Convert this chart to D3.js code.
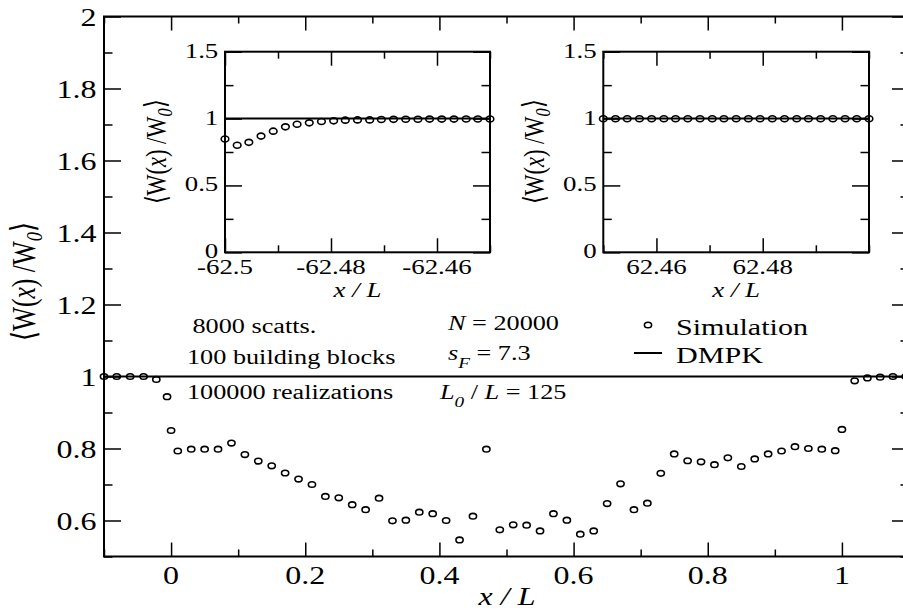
<!DOCTYPE html>
<html>
<head>
<meta charset="utf-8">
<script src="https://cdn.jsdelivr.net/npm/d3@7/dist/d3.min.js"></script>
<style>
  body { margin: 0; background: #fff; }
  text { font-family: 'Liberation Serif', 'Times New Roman', serif; fill: #000; }
</style>
</head>
<body>
<div id="chart"></div>
<script>
// main panel: simulation points and DMPK line
var simX = [-0.1, -0.081, -0.061, -0.041, -0.022, -0.006, 0,
  0.01, 0.03, 0.05, 0.07, 0.09, 0.11, 0.13, 0.15, 0.17, 0.19,
  0.21, 0.23, 0.25, 0.27, 0.29, 0.31, 0.33, 0.35, 0.37, 0.39,
  0.41, 0.43, 0.45, 0.47, 0.49, 0.51, 0.53, 0.55, 0.57, 0.59,
  0.61, 0.63, 0.65, 0.67, 0.69, 0.71, 0.73, 0.75, 0.77, 0.79,
  0.81, 0.83, 0.85, 0.87, 0.89, 0.91, 0.93, 0.95, 0.97, 0.99,
  1.0, 1.019, 1.038, 1.057, 1.076, 1.095]
var simY = [1.0, 1.0, 1.0, 1.0, 0.992, 0.944, 0.85,
  0.793, 0.798, 0.798, 0.798, 0.815, 0.783, 0.765, 0.752, 0.732, 0.715,
  0.700, 0.667, 0.663, 0.644, 0.630, 0.662, 0.599, 0.601, 0.623, 0.619,
  0.600, 0.546, 0.612, 0.798, 0.574, 0.588, 0.587, 0.571, 0.619, 0.601,
  0.562, 0.571, 0.647, 0.702, 0.630, 0.648, 0.731, 0.785, 0.766, 0.763,
  0.755, 0.774, 0.750, 0.771, 0.785, 0.793, 0.805, 0.800, 0.798, 0.794,
  0.853, 0.988, 0.996, 0.998, 1.0, 1.0]
var dmpkX = [-0.1, 1.1]
var dmpkY = [1, 1]

// left inset
var leftX = [-62.5, -62.4977, -62.4955, -62.4932, -62.4909, -62.4886, -62.4864,
  -62.4841, -62.4818, -62.4795, -62.4773, -62.475, -62.4727, -62.4705, -62.4682,
  -62.4659, -62.4636, -62.4614, -62.4591, -62.4568, -62.4545, -62.4523, -62.45]
var leftY = [0.847, 0.800, 0.822, 0.869, 0.906, 0.938, 0.958, 0.968, 0.978, 0.983,
  0.988, 0.990, 0.990, 0.993, 0.994, 0.995, 0.995, 0.996, 0.996, 0.996, 0.997, 0.997, 0.997]
var leftLineX = [-62.5, -62.45]

// right inset
var rightX = [62.45, 62.4523, 62.4545, 62.4568, 62.4591, 62.4614, 62.4636,
  62.4659, 62.4682, 62.4705, 62.4727, 62.475, 62.4773, 62.4795, 62.4818,
  62.4841, 62.4864, 62.4886, 62.4909, 62.4932, 62.4955, 62.4977, 62.5]
var rightY = [0.999, 0.999, 0.999, 0.999, 0.999, 0.999, 0.999, 0.999, 0.999, 0.999,
  0.999, 0.999, 0.999, 0.999, 0.999, 0.999, 0.999, 0.999, 0.999, 0.999, 0.999, 0.999, 0.999]
var rightLineX = [62.45, 62.5]

// ticks
var mainXMajor = [0, 0.2, 0.4, 0.6, 0.8, 1]
var mainXMinor = [-0.1, 0.1, 0.3, 0.5, 0.7, 0.9, 1.1]
var mainYMajor = [0.6, 0.8, 1, 1.2, 1.4, 1.6, 1.8, 2]
var mainYMinor = [0.5, 0.7, 0.9, 1.1, 1.3, 1.5, 1.7, 1.9]
var leftXMajor = [-62.5, -62.48, -62.46]
var leftXMinor = [-62.49, -62.47, -62.45]
var rightXMajor = [62.46, 62.48]
var rightXMinor = [62.45, 62.47, 62.49, 62.5]
var insetYMajor = [0, 0.5, 1, 1.5]
var insetYMinor = [0.25, 0.75, 1.25]

var width = 903
var height = 612
var SX = 1.28 // the picture is stretched sideways, so is the text

// plain hyphen for negatives, like the original
var fmt = function (d) { return String(d) }

var svg = d3.select('#chart')
  .append('svg')
  .attr('width', width)
  .attr('height', height)
  .attr('font-family', 'Liberation Serif, serif')

function stext(g, x, y, size, anchor) {
  return g.append('text')
    .attr('transform', 'translate(' + x + ',' + y + ') scale(' + SX + ',1)')
    .attr('font-size', size)
    .attr('text-anchor', anchor || 'start')
}

// W(x)/W0 label, rotated
function wLabel(g, x, y, size) {
  var t = g.append('text')
    .attr('transform', 'translate(' + x + ',' + y + ') scale(' + SX + ',1) rotate(-90)')
    .attr('font-size', size)
    .attr('text-anchor', 'middle')
    .attr('dy', '0.33em')
  t.append('tspan').text('\u27E8W(')
  t.append('tspan').attr('font-style', 'italic').text('x')
  t.append('tspan').text(') /W')
  t.append('tspan').attr('font-style', 'italic').attr('font-size', size * 0.72).attr('dy', '0.3em').text('0')
  t.append('tspan').attr('dy', '-0.25em').text('\u27E9')
}

function drawFrame(g, x, y, o) {
  var x0 = x.range()[0], x1 = x.range()[1]
  var y0 = y.range()[1], y1 = y.range()[0]

  g.append('rect')
    .attr('x', x0).attr('y', y0)
    .attr('width', x1 - x0).attr('height', y1 - y0)
    .attr('fill', o.fill || 'none')

  var axes = [
    [d3.axisBottom(x).tickValues(o.xMajor).tickSize(-o.tv), 'translate(0,' + y1 + ')'],
    [d3.axisBottom(x).tickValues(o.xMinor).tickSize(-o.tv / 2), 'translate(0,' + y1 + ')'],
    [d3.axisTop(x).tickValues(o.xMajor).tickSize(-o.tv), 'translate(0,' + y0 + ')'],
    [d3.axisTop(x).tickValues(o.xMinor).tickSize(-o.tv / 2), 'translate(0,' + y0 + ')'],
    [d3.axisLeft(y).tickValues(o.yMajor).tickSize(-o.th), 'translate(' + x0 + ',0)'],
    [d3.axisLeft(y).tickValues(o.yMinor).tickSize(-o.th / 2), 'translate(' + x0 + ',0)'],
    [d3.axisRight(y).tickValues(o.yMajor).tickSize(-o.th), 'translate(' + x1 + ',0)'],
    [d3.axisRight(y).tickValues(o.yMinor).tickSize(-o.th / 2), 'translate(' + x1 + ',0)']
  ]
  axes.forEach(function (a) {
    var ax = g.append('g')
      .attr('transform', a[1])
      .call(a[0].tickFormat('').tickSizeOuter(0))
    ax.select('.domain').remove()
    ax.selectAll('line').attr('stroke', '#000').attr('stroke-width', 1.5)
  })

  g.append('rect')
    .attr('x', x0).attr('y', y0)
    .attr('width', x1 - x0).attr('height', y1 - y0)
    .attr('fill', 'none')
    .attr('stroke', '#000')
    .attr('stroke-width', 2)

  // tick labels
  o.xLabels.forEach(function (d) {
    stext(g, x(d), y1 + o.xlDy, o.fs, 'middle').text(fmt(d))
  })
  o.yMajor.forEach(function (d) {
    stext(g, x0 - o.ylDx, y(d) + o.ylDy, o.fs, 'end').text(fmt(d))
  })
}

function drawPoints(g, x, y, xs, ys, rx, ry) {
  g.append('g')
    .selectAll('ellipse')
    .data(xs)
    .enter()
    .append('ellipse')
    .attr('cx', function (d) { return x(d) })
    .attr('cy', function (d, i) { return y(ys[i]) })
    .attr('rx', rx)
    .attr('ry', ry)
    .attr('fill', 'none')
    .attr('stroke', '#000')
    .attr('stroke-width', 1.6)
}

function drawLine(g, x, y, xs, ys) {
  var line = d3.line()
    .x(function (d) { return x(d) })
    .y(function (d, i) { return y(ys[i]) })
  g.append('path')
    .datum(xs)
    .attr('d', line)
    .attr('fill', 'none')
    .attr('stroke', '#000')
    .attr('stroke-width', 2)
}

// ---------- main panel ----------
var xMain = d3.scaleLinear().domain([-0.1, 1.1]).range([104, 909])
var yMain = d3.scaleLinear().domain([0.5, 2]).range([556.5, 16.5])

var main = svg.append('g')
drawLine(main, xMain, yMain, dmpkX, dmpkY)
drawPoints(main, xMain, yMain, simX, simY, 3.6, 2.8)
drawFrame(main, xMain, yMain, {
  xMajor: mainXMajor, xMinor: mainXMinor,
  yMajor: mainYMajor, yMinor: mainYMinor,
  xLabels: mainXMajor,
  tv: 14, th: 17, fs: 25, xlDy: 27, ylDx: 7.5, ylDy: 9
})

stext(main, 507, 605, 25, 'middle').attr('font-style', 'italic').text('x / L')
wLabel(main, 24, 281.5, 25.5)

// annotations
stext(main, 192.5, 332.5, 20.5).text('8000 scatts.')
stext(main, 187, 363.5, 20.5).text('100 building blocks')
stext(main, 187, 398.5, 20.5).text('100000 realizations')

var t1 = stext(main, 448, 330, 20.5)
t1.append('tspan').attr('font-style', 'italic').text('N')
t1.append('tspan').text(' = 20000')

var t2 = stext(main, 448, 360, 20.5)
t2.append('tspan').attr('font-style', 'italic').text('s')
t2.append('tspan').attr('font-style', 'italic').attr('font-size', 15).attr('dy', 8).text('F')
t2.append('tspan').attr('dy', -8).text(' = 7.3')

var t3 = stext(main, 440, 399, 20.5)
t3.append('tspan').attr('font-style', 'italic').text('L')
t3.append('tspan').attr('font-style', 'italic').attr('font-size', 15).attr('dy', 8).text('0')
t3.append('tspan').attr('dy', -8).text(' / ')
t3.append('tspan').attr('font-style', 'italic').text('L')
t3.append('tspan').text(' = 125')

// legend
var legX = [634, 662]
main.append('ellipse')
  .attr('cx', d3.mean(legX)).attr('cy', 325)
  .attr('rx', 3.6).attr('ry', 2.8)
  .attr('fill', 'none').attr('stroke', '#000').attr('stroke-width', 1.6)
main.append('line')
  .attr('x1', legX[0]).attr('x2', legX[1])
  .attr('y1', 353).attr('y2', 353)
  .attr('stroke', '#000').attr('stroke-width', 2)
stext(main, 676, 335, 23.5).text('Simulation')
stext(main, 676, 362.5, 23.5).text('DMPK')

// ---------- insets ----------
function inset(x, y, xs, ys, lineX, xMajor, xMinor, labelX) {
  var g = svg.append('g')
  drawFrame(g, x, y, {
    fill: '#fff',
    xMajor: xMajor, xMinor: xMinor,
    yMajor: insetYMajor, yMinor: insetYMinor,
    xLabels: xMajor,
    tv: 14, th: 17, fs: 21, xlDy: 22, ylDx: 6.7, ylDy: 6
  })
  drawLine(g, x, y, lineX, [1, 1])
  drawPoints(g, x, y, xs, ys, 3.8, 3.0)
  stext(g, d3.mean(x.range()), 296.5, 21, 'middle').attr('font-style', 'italic').text('x / L')
  wLabel(g, labelX, d3.mean(y.range()), 22.5)
}

var yInset = d3.scaleLinear().domain([0, 1.5]).range([252.3, 51.7])
var xLeft = d3.scaleLinear().domain([-62.5, -62.45]).range([225, 490])
var xRight = d3.scaleLinear().domain([62.45, 62.5]).range([603.3, 869])

inset(xLeft, yInset, leftX, leftY, leftLineX, leftXMajor, leftXMinor, 156)
inset(xRight, yInset, rightX, rightY, rightLineX, rightXMajor, rightXMinor, 534)
</script>
</body>
</html>
